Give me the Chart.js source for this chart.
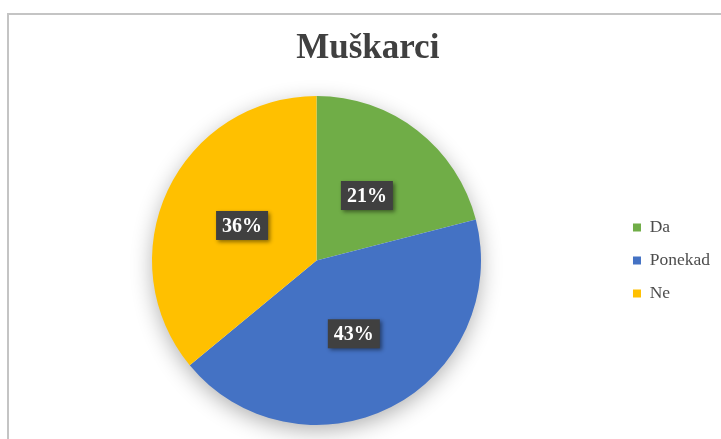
<!DOCTYPE html>
<html>
<head>
<meta charset="utf-8">
<script src="https://cdn.jsdelivr.net/npm/chart.js@4"></script>
<style>
  html, body { margin: 0; padding: 0; background: #fff; }
  #frame {
    position: absolute; left: 7px; top: 13px; width: 800px; height: 500px;
    border-left: 2px solid #c4c4c4; border-top: 2px solid #c4c4c4;
  }
  #wrap { position: absolute; left: 0; top: 0; width: 721px; height: 439px; }
</style>
</head>
<body>
<div id="frame"></div>
<div id="wrap"><canvas id="menPie"></canvas></div>
<script>
const categories = ['Da', 'Ponekad', 'Ne'];
const shares = [21, 43, 36]; // percent of answers
const sliceColors = ['#70AD47', '#4472C4', '#FFC000'];

// soft shadow under the whole pie
const pieShadow = {
    id: 'pieShadow',
    beforeDatasetsDraw(chart) {
        const arc = chart.getDatasetMeta(0).data[0];
        if (!arc) return;
        const ctx = chart.ctx;
        ctx.save();
        ctx.shadowColor = 'rgba(0,0,0,0.32)';
        ctx.shadowBlur = 22;
        ctx.shadowOffsetY = 6;
        ctx.fillStyle = '#fff';
        ctx.beginPath();
        ctx.arc(arc.x, arc.y, arc.outerRadius - 1, 0, Math.PI * 2);
        ctx.fill();
        ctx.restore();
    }
};

// dark boxed percent labels
const boxLabels = {
    id: 'boxLabels',
    afterDatasetsDraw(chart) {
        const ctx = chart.ctx;
        const values = chart.data.datasets[0].data;
        const total = values.reduce((a, b) => a + b, 0);
        chart.getDatasetMeta(0).data.forEach((arc, i) => {
            const pt = arc.tooltipPosition();
            const txt = Math.round(values[i] / total * 100) + '%';
            ctx.save();
            ctx.font = 'bold 20px "Liberation Serif", "Times New Roman", serif';
            const w = ctx.measureText(txt).width + 12;
            const h = 29;
            ctx.shadowColor = 'rgba(0,0,0,0.45)';
            ctx.shadowBlur = 4;
            ctx.shadowOffsetX = 2;
            ctx.shadowOffsetY = 2;
            ctx.fillStyle = '#404040';
            ctx.fillRect(pt.x - w / 2, pt.y - h / 2, w, h);
            ctx.shadowColor = 'transparent';
            ctx.fillStyle = '#ffffff';
            ctx.textAlign = 'center';
            ctx.textBaseline = 'middle';
            ctx.fillText(txt, pt.x, pt.y + 1);
            ctx.restore();
        });
    }
};

const ctxPie = document.getElementById('menPie').getContext('2d');
const menPie = new Chart(ctxPie, {
    type: 'pie',
    data: {
        labels: categories,
        datasets: [{
            data: shares,
            backgroundColor: sliceColors,
            borderWidth: 0
        }]
    },
    options: {
        responsive: true,
        maintainAspectRatio: false,
        animation: false,
        layout: {
            padding: { left: 15.5, right: 1, top: 0, bottom: 14 }
        },
        plugins: {
            title: {
                display: true,
                text: 'Muškarci',
                color: '#404040',
                font: { family: '"Liberation Serif", "Times New Roman", serif', size: 35, weight: 'bold' },
                padding: { top: 28, bottom: 26 }
            },
            legend: {
                position: 'right',
                fullSize: false,
                labels: {
                    boxWidth: 8,
                    boxHeight: 8,
                    padding: 15.5,
                    color: '#4d4d4d',
                    font: { family: '"Liberation Serif", "Times New Roman", serif', size: 17.5 }
                }
            },
            tooltip: { enabled: false }
        }
    },
    plugins: [pieShadow, boxLabels]
});
</script>
</body>
</html>
